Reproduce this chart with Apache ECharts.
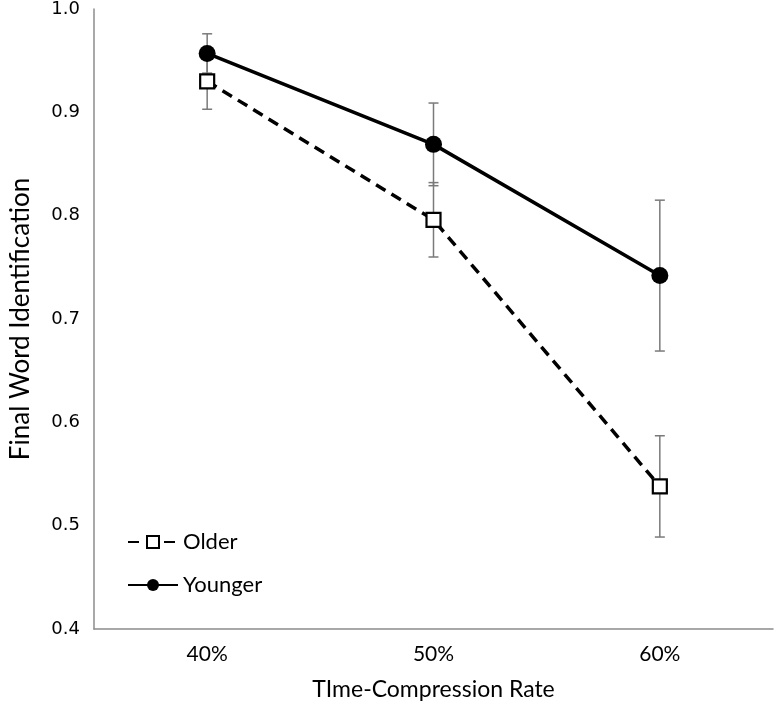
<!DOCTYPE html>
<html>
<head>
<meta charset="utf-8">
<script src="https://cdn.jsdelivr.net/npm/echarts@6/dist/echarts.min.js"></script>
<style>html,body{margin:0;padding:0;background:#fff;}#c{width:776px;height:706px;}</style>
</head>
<body>
<div id="c"></div>
<script>
const categories = ['40%', '50%', '60%'];
const olderMean = [0.930, 0.796, 0.538];
const olderErr = [0.027, 0.036, 0.049];
const youngerMean = [0.957, 0.869, 0.742];
const youngerErr = [0.019, 0.040, 0.073];
const yTicks = [0.4, 0.5, 0.6, 0.7, 0.8, 0.9, 1.0];

const chart = echarts.init(document.getElementById('c'));

function errData(mean, err) {
  return mean.map((m, i) => [i, m, err[i]]);
}
function renderErr(params, api) {
  const i = api.value(0), m = api.value(1), e = api.value(2);
  const top = api.coord([i, m + e]);
  const bot = api.coord([i, m - e]);
  const hw = 5;
  const style = { stroke: '#7a7a7a', lineWidth: 1.5 };
  return {
    type: 'group',
    children: [
      { type: 'line', shape: { x1: top[0], y1: top[1], x2: bot[0], y2: bot[1] }, style },
      { type: 'line', shape: { x1: top[0] - hw, y1: top[1], x2: top[0] + hw, y2: top[1] }, style },
      { type: 'line', shape: { x1: bot[0] - hw, y1: bot[1], x2: bot[0] + hw, y2: bot[1] }, style }
    ]
  };
}

chart.setOption({
  animation: false,
  backgroundColor: '#fff',
  grid: { left: 89, right: 3, top: 9, bottom: 67 },
  legend: {
    orient: 'vertical',
    left: 122,
    top: 526,
    itemWidth: 50,
    itemHeight: 15,
    itemGap: 21,
    textStyle: { fontFamily: 'Lato', fontSize: 22, color: '#000' },
    data: ['Older', 'Younger']
  },
  xAxis: {
    type: 'category',
    data: categories,
    boundaryGap: true,
    axisLine: { lineStyle: { color: '#8c8c8c', width: 1.5 } },
    axisTick: { show: false },
    axisLabel: { fontFamily: 'Lato', fontSize: 21, color: '#000', margin: 15 },
    name: 'TIme-Compression Rate',
    nameLocation: 'middle',
    nameGap: 49,
    nameTextStyle: { fontFamily: 'Lato', fontSize: 23, color: '#000' }
  },
  yAxis: {
    type: 'value',
    min: 0.4,
    max: 1.0,
    interval: 0.1,
    axisLine: { show: true, lineStyle: { color: '#8c8c8c', width: 1.5 } },
    axisTick: { show: false },
    splitLine: { show: false },
    axisLabel: {
      fontFamily: 'DejaVu Sans', fontSize: 18, color: '#000', margin: 14,
      formatter: v => yTicks.find(t => Math.abs(t - v) < 1e-6).toFixed(1)
    },
    name: 'Final Word Identification',
    nameLocation: 'middle',
    nameGap: 60,
    nameTextStyle: { fontFamily: 'Lato', fontSize: 26, color: '#000' }
  },
  series: [
    {
      type: 'custom', name: 'olderErr', renderItem: renderErr,
      data: errData(olderMean, olderErr), z: 1, silent: true,
      encode: { x: 0, y: 1 }
    },
    {
      type: 'custom', name: 'youngerErr', renderItem: renderErr,
      data: errData(youngerMean, youngerErr), z: 1, silent: true,
      encode: { x: 0, y: 1 }
    },
    {
      name: 'Older', type: 'line', data: olderMean, z: 3,
      symbol: 'rect', symbolSize: 14,
      lineStyle: { color: '#000', width: 3.5, type: [11, 7] },
      itemStyle: { color: '#fff', borderColor: '#000', borderWidth: 2.2 }
    },
    {
      name: 'Younger', type: 'line', data: youngerMean, z: 4,
      symbol: 'circle', symbolSize: 17,
      lineStyle: { color: '#000', width: 3.5 },
      itemStyle: { color: '#000', borderColor: '#000', borderWidth: 0 }
    }
  ]
});
</script>
</body>
</html>
